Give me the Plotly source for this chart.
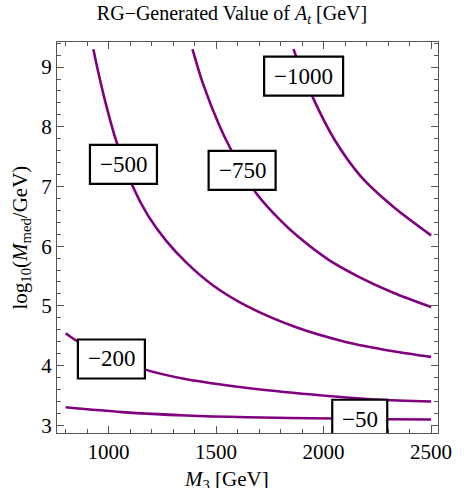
import plotly.graph_objects as go

# ---- data (x = M3 [GeV], y = log10(Mmed/GeV)) ----
c500_x = [929, 956, 986, 1032, 1110, 1182, 1270, 1363, 1483, 1646, 1872, 2098, 2324, 2500]
c500_y = [9.30, 8.85, 8.40, 7.80, 7.02, 6.52, 6.08, 5.72, 5.35, 4.99, 4.64, 4.40, 4.24, 4.145]

c750_x = [1390, 1438, 1514, 1566, 1684, 1797, 1881, 2020, 2173, 2324, 2500]
c750_y = [9.30, 8.73, 8.03, 7.64, 6.90, 6.44, 6.16, 5.78, 5.47, 5.22, 4.98]

c1000_x = [1860, 1875, 1955, 2053, 2173, 2324, 2500]
c1000_y = [9.30, 9.15, 8.45, 7.77, 7.17, 6.66, 6.18]

c200_x = [800, 863, 1163, 1363, 1646, 1947, 2248, 2500]
c200_y = [4.54, 4.39, 3.94, 3.77, 3.625, 3.515, 3.43, 3.397]

c50_x = [800, 1062, 1363, 1646, 2045, 2293, 2500]
c50_y = [3.30, 3.22, 3.163, 3.134, 3.112, 3.101, 3.096]

label_text = ["\u2212500", "\u2212750", "\u22121000", "\u2212200", "\u221250"]
label_x = [1069, 1621, 1907, 1013, 2168]
label_y = [7.37, 7.27, 8.85, 4.11, 3.10]

x_ticks = [1000, 1500, 2000, 2500]
y_ticks = [3, 4, 5, 6, 7, 8, 9]

# ---- style ----
SERIF = "Liberation Serif"
PURPLE = "#800080"
FRAME = "#555555"

fig = go.Figure()
for xs, ys in [(c500_x, c500_y), (c750_x, c750_y), (c1000_x, c1000_y),
               (c200_x, c200_y), (c50_x, c50_y)]:
    fig.add_trace(go.Scatter(x=xs, y=ys, mode="lines",
                             line=dict(color=PURPLE, width=2.6, shape="spline", smoothing=0.8),
                             hoverinfo="skip", showlegend=False))

shapes = []
annotations = []
for t, lx, ly in zip(label_text, label_x, label_y):
    w = 18 + 12 * (len(t) - 1) + 13
    h = 39
    shapes.append(dict(type="rect", xref="x", yref="y", xsizemode="pixel", ysizemode="pixel",
                       xanchor=lx, yanchor=ly, x0=-w / 2, x1=w / 2, y0=-h / 2, y1=h / 2,
                       line=dict(color="black", width=2.2), fillcolor="white", layer="above"))
    annotations.append(dict(x=lx, y=ly, xref="x", yref="y", text=t, showarrow=False,
                            font=dict(family=SERIF, size=23, color="black"),
                            xanchor="center", yanchor="middle"))

annotations.append(dict(xref="paper", yref="paper", x=0.5, y=0, xshift=-21, yshift=-47,
                        text="<i>M</i><sub>3</sub> [GeV]", showarrow=False,
                        font=dict(family=SERIF, size=21, color="black"),
                        xanchor="center", yanchor="middle"))
annotations.append(dict(xref="paper", yref="paper", x=0, y=0.5, xshift=-37,
                        text="log<sub>10</sub>(<i>M</i><sub>med</sub>/GeV)", showarrow=False,
                        textangle=-90, font=dict(family=SERIF, size=21, color="black"),
                        xanchor="center", yanchor="middle"))

axis_common = dict(showgrid=False, zeroline=False, showline=True, linecolor=FRAME, linewidth=1.2,
                   mirror="allticks", ticks="inside", ticklen=7, tickwidth=1, tickcolor=FRAME,
                   tickfont=dict(family=SERIF, size=21, color="black"))

fig.update_layout(
    width=464, height=488,
    margin=dict(l=57, r=15, t=42, b=55),
    paper_bgcolor="white", plot_bgcolor="white",
    font=dict(family=SERIF, color="black"),
    title=dict(text="RG\u2212Generated Value of <i>A</i><sub><i>t</i></sub> [GeV]",
               x=0.5, xref="container", xanchor="center", y=1, yref="container",
               yanchor="top", pad=dict(t=6),
               font=dict(family=SERIF, size=20, color="black")),
    xaxis=dict(range=[760, 2532], tickvals=x_ticks,
               minor=dict(dtick=100, ticks="inside", ticklen=4, tickcolor=FRAME, showgrid=False),
               **axis_common),
    yaxis=dict(range=[2.87, 9.42], tickvals=y_ticks,
               minor=dict(dtick=0.2, ticks="inside", ticklen=4, tickcolor=FRAME, showgrid=False),
               **axis_common),
    shapes=shapes,
    annotations=annotations,
)

fig.write_html("out.html")
